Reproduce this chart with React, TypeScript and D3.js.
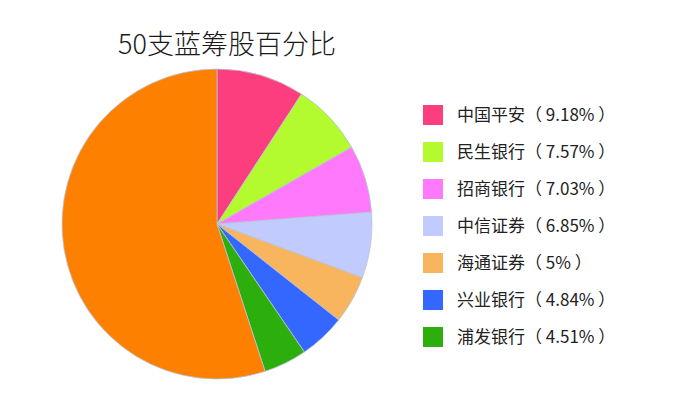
import { useEffect, useRef } from 'react'
import * as d3 from 'd3'

const stockNames = ['中国平安', '民生银行', '招商银行', '中信证券', '海通证券', '兴业银行', '浦发银行']
const stockShares = [9.18, 7.57, 7.03, 6.85, 5, 4.84, 4.51]
const shareLabels = ['9.18%', '7.57%', '7.03%', '6.85%', '5%', '4.84%', '4.51%']
const sliceColors = ['#fc3d7e', '#b3fa2f', '#ff79fc', '#c2cbfd', '#f9b55e', '#3467fe', '#2caf0c']
const otherColor = '#fe8000'
const title = '50支蓝筹股百分比'

interface Slice {
  name: string
  value: number
  color: string
}

export default function App() {
  const ref = useRef<SVGSVGElement>(null)

  useEffect(() => {
    if (!ref.current) return
    const svg = d3.select(ref.current)
    svg.selectAll('*').remove()

    const width = 700
    const height = 411
    const font = '"Noto Sans CJK SC", "Noto Sans", sans-serif'

    svg.append('rect').attr('width', width).attr('height', height).attr('fill', '#fff')

    // the rest of the 50 stocks fills the pie up to 100%
    const rest = 100 - d3.sum(stockShares)
    const data: Slice[] = stockNames.map((name, i) => ({ name, value: stockShares[i], color: sliceColors[i] }))
    data.push({ name: 'other', value: rest, color: otherColor })

    const cx = 217
    const cy = 224
    const radius = 155

    const pie = d3.pie<Slice>().value(d => d.value).sort(null)
    const arc = d3.arc<d3.PieArcDatum<Slice>>().innerRadius(0).outerRadius(radius)

    svg.append('g')
      .attr('transform', `translate(${cx},${cy})`)
      .selectAll('path')
      .data(pie(data))
      .join('path')
      .attr('d', arc)
      .attr('fill', d => d.data.color)
      .attr('stroke', '#b9c3d6')
      .attr('stroke-width', 0.8)

    // title
    svg.append('text')
      .attr('x', 118)
      .attr('y', 54)
      .attr('fill', '#1a1a1a')
      .style('font-family', font)
      .style('font-weight', 300)
      .style('font-size', '27px')
      .text(title)

    // legend
    const rowY = d3.scalePoint<string>().domain(stockNames).range([115, 337])
    const legend = svg.append('g')
      .selectAll('g')
      .data(stockNames)
      .join('g')
      .attr('transform', d => `translate(423,${rowY(d)})`)

    legend.append('rect')
      .attr('x', 0)
      .attr('y', -10)
      .attr('width', 20)
      .attr('height', 20)
      .attr('fill', (_, i) => sliceColors[i])

    legend.append('text')
      .attr('x', 34)
      .attr('y', 6)
      .attr('fill', '#222')
      .style('font-family', font)
      .style('font-weight', 400)
      .style('font-size', '17px')
      .text((d, i) => `${d}（ ${shareLabels[i]} ）`)
  }, [])

  return (
    <svg
      ref={ref}
      width={700}
      height={411}
      style={{ position: 'absolute', left: 0, top: 0, display: 'block' }}
    />
  )
}
